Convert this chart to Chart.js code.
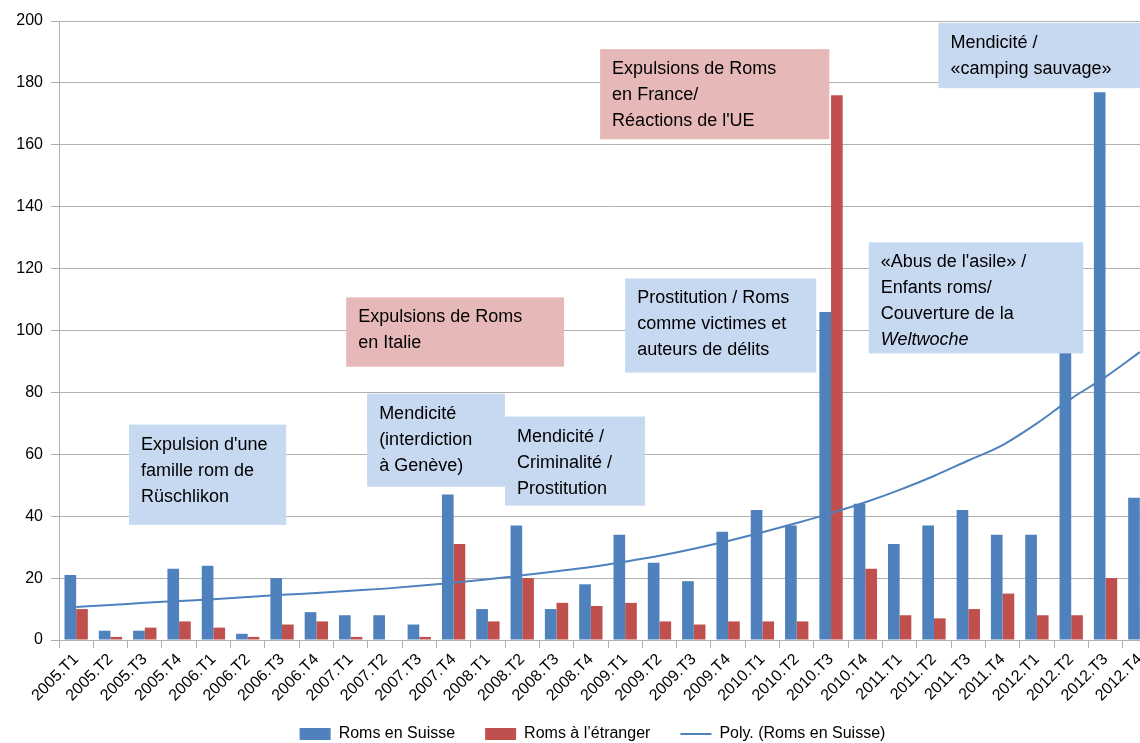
<!DOCTYPE html>
<html>
<head>
<meta charset="utf-8">
<title>Roms en Suisse</title>
<script src="https://cdn.jsdelivr.net/npm/chart.js"></script>
<style>
  html, body { margin: 0; padding: 0; background: #fff; overflow: hidden; }
  #wrap { width: 1140px; height: 743px; overflow: hidden; position: relative; }
  #myChart { position: absolute; left: 0; top: 0; }
</style>
</head>
<body>
<div id="wrap"><canvas id="myChart" width="1184" height="743"></canvas></div>
<script>
// quarters
const categories = [
  '2005.T1', '2005.T2', '2005.T3', '2005.T4',
  '2006.T1', '2006.T2', '2006.T3', '2006.T4',
  '2007.T1', '2007.T2', '2007.T3', '2007.T4',
  '2008.T1', '2008.T2', '2008.T3', '2008.T4',
  '2009.T1', '2009.T2', '2009.T3', '2009.T4',
  '2010.T1', '2010.T2', '2010.T3', '2010.T4',
  '2011.T1', '2011.T2', '2011.T3', '2011.T4',
  '2012.T1', '2012.T2', '2012.T3', '2012.T4'
];
const romsSuisse = [21, 3, 3, 23, 24, 2, 20, 9, 8, 8, 5, 47, 10, 37, 10, 18,
                    34, 25, 19, 35, 42, 37, 106, 44, 31, 37, 42, 34, 34, 110, 177, 46];
const romsEtranger = [10, 1, 4, 6, 4, 1, 5, 6, 1, 0, 1, 31, 6, 20, 12, 11,
                      12, 6, 5, 6, 6, 6, 176, 23, 8, 7, 10, 15, 8, 8, 20, 10];
// polynomial trend at each quarter
const polySuisse = [10.7, 11.3, 12.0, 12.6, 13.2, 13.9, 14.6, 15.2, 15.9, 16.6, 17.5, 18.5,
                    19.6, 20.9, 22.2, 23.6, 25.3, 27.2, 29.5, 32.0, 34.8, 37.8, 41.0, 44.5,
                    48.5, 53.0, 58.0, 63.0, 70.0, 78.0, 85.0, 93.0];
const yTicks = [0, 20, 40, 60, 80, 100, 120, 140, 160, 180, 200];
const seriesNames = ['Roms en Suisse', 'Roms à l\u2019étranger', 'Poly. (Roms en Suisse)'];

const FONT = "'Liberation Sans', Arial, sans-serif";
const BLUE = '#4f81bd';
const RED = '#c0504d';
const BOX_BLUE = '#c6d9f1';
const BOX_PINK = '#e6b9b8';
const GRID = '#b0b0b0';

// text boxes: x in quarter units from the left edge, y in axis values
const notes = [
  { x0: 2.04, x1: 6.62, y0: 69.6, y1: 37.2, fill: BOX_BLUE,
    lines: ["Expulsion d'une", 'famille rom de', 'Rüschlikon'] },
  { x0: 8.98, x1: 13.0, y0: 79.6, y1: 49.5, fill: BOX_BLUE,
    lines: ['Mendicité', '(interdiction', 'à Genève)'] },
  { x0: 13.0, x1: 17.08, y0: 72.2, y1: 43.4, fill: BOX_BLUE,
    lines: ['Mendicité /', 'Criminalité /', 'Prostitution'] },
  { x0: 8.37, x1: 14.72, y0: 110.7, y1: 88.3, fill: BOX_PINK,
    lines: ['Expulsions de Roms', 'en Italie'] },
  { x0: 16.5, x1: 22.07, y0: 116.8, y1: 86.4, fill: BOX_BLUE,
    lines: ['Prostitution / Roms', 'comme victimes et', 'auteurs de délits'] },
  { x0: 15.77, x1: 22.45, y0: 190.9, y1: 161.8, fill: BOX_PINK,
    lines: ['Expulsions de Roms', 'en France/', "Réactions de l'UE"] },
  { x0: 25.63, x1: 32.5, y0: 199.4, y1: 178.3, fill: BOX_BLUE,
    lines: ['Mendicité /', '«camping sauvage»'] },
  { x0: 23.6, x1: 29.85, y0: 128.5, y1: 92.6, fill: BOX_BLUE,
    lines: ["«Abus de l'asile» /", 'Enfants roms/', 'Couverture de la', 'Weltwoche'], italic: [3] }
];

const notesPlugin = {
  id: 'notes',
  afterLayout(chart) {
    // legend sits a bit lower and right of where the layout puts it
    const lg = chart.legend;
    const h = lg.bottom - lg.top;
    lg.top = 734 - lg.options.labels.padding - 8;
    lg.bottom = lg.top + h;
    lg.left += 14;
    lg.right += 14;
  },
  afterDraw(chart) {
    const ctx = chart.ctx;
    const xs = chart.scales.x;
    const ys = chart.scales.y;
    const step = (xs.right - xs.left) / categories.length;
    ctx.save();
    notes.forEach(n => {
      const l = xs.left + n.x0 * step;
      const r = xs.left + n.x1 * step;
      const t = ys.getPixelForValue(n.y0);
      const b = ys.getPixelForValue(n.y1);
      ctx.fillStyle = n.fill;
      ctx.fillRect(l, t, r - l, b - t);
      ctx.fillStyle = '#000';
      ctx.textBaseline = 'middle';
      ctx.textAlign = 'left';
      n.lines.forEach((line, i) => {
        const it = n.italic && n.italic.includes(i);
        ctx.font = (it ? 'italic ' : '') + '18px ' + FONT;
        ctx.fillText(line, l + 12, t + 20 + i * 26);
      });
    });
    ctx.restore();
  }
};

const ctx = document.getElementById('myChart').getContext('2d');
const myChart = new Chart(ctx, {
  type: 'bar',
  data: {
    labels: categories,
    datasets: [
      { label: seriesNames[0], data: romsSuisse, backgroundColor: BLUE, order: 2,
        barPercentage: 1.0, categoryPercentage: 0.68 },
      { label: seriesNames[1], data: romsEtranger, backgroundColor: RED, order: 2,
        barPercentage: 1.0, categoryPercentage: 0.68 },
      { label: seriesNames[2], data: polySuisse, type: 'line', borderColor: BLUE,
        backgroundColor: BLUE, borderWidth: 2, pointRadius: 0, order: 1,
        cubicInterpolationMode: 'monotone' }
    ]
  },
  options: {
    responsive: false,
    animation: false,
    layout: { padding: { top: 21, left: 0, right: 27, bottom: -25 } },
    plugins: {
      tooltip: { enabled: false },
      legend: {
        position: 'bottom',
        labels: {
          font: { family: FONT, size: 16 },
          color: '#000',
          usePointStyle: true,
          pointStyleWidth: 31,
          boxWidth: 31,
          boxHeight: 12,
          padding: 30,
          generateLabels(chart) {
            return chart.data.datasets.map((ds, i) => ({
              text: ds.label,
              fillStyle: ds.backgroundColor,
              strokeStyle: ds.borderColor || ds.backgroundColor,
              lineWidth: i === 2 ? 2 : 0,
              pointStyle: i === 2 ? 'line' : 'rect',
              datasetIndex: i,
              hidden: false
            }));
          }
        }
      }
    },
    scales: {
      x: {
        grid: { display: true, drawOnChartArea: false, color: GRID, tickLength: 8, offset: true },
        border: { color: GRID },
        ticks: {
          autoSkip: false, maxRotation: 45, minRotation: 45, color: '#000',
          font: { family: FONT, size: 16 }, padding: 2
        },
        afterFit(scale) { scale.height = 72; }
      },
      y: {
        min: 0, max: 200,
        afterBuildTicks(scale) { scale.ticks = yTicks.map(v => ({ value: v })); },
        grid: { color: GRID, tickLength: 8 },
        border: { color: GRID },
        ticks: { color: '#000', font: { family: FONT, size: 16 }, padding: 8 },
        afterFit(scale) { scale.width = 59; }
      }
    }
  },
  plugins: [notesPlugin]
});
</script>
</body>
</html>
